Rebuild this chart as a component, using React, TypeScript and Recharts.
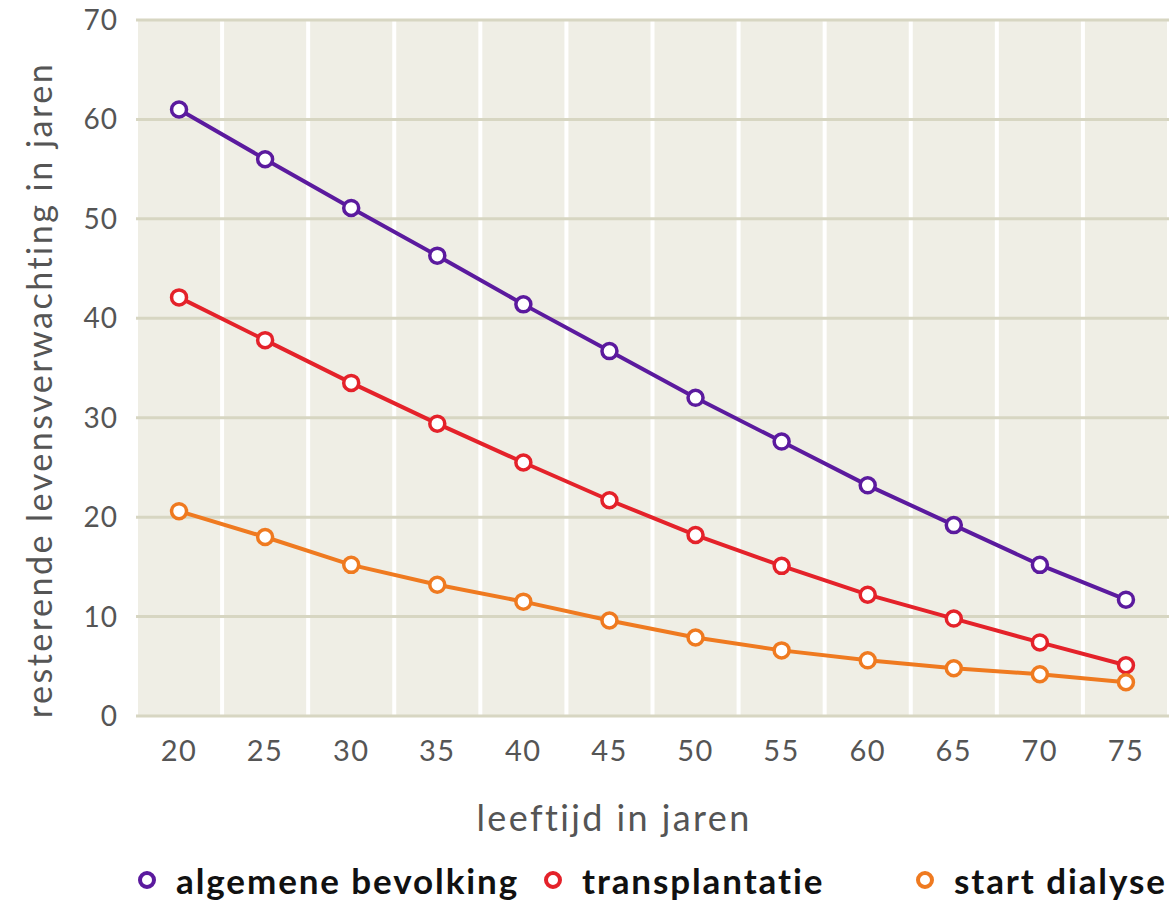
import React from "react";
import { LineChart, Line, XAxis, YAxis, CartesianGrid, Legend, Label } from "recharts";

const ages = [20, 25, 30, 35, 40, 45, 50, 55, 60, 65, 70, 75];
const algemeneBevolking = [61.0, 56.0, 51.1, 46.3, 41.4, 36.7, 32.0, 27.6, 23.2, 19.2, 15.2, 11.7];
const transplantatie = [42.1, 37.8, 33.5, 29.4, 25.5, 21.7, 18.2, 15.1, 12.2, 9.8, 7.4, 5.1];
const startDialyse = [20.6, 18.0, 15.2, 13.2, 11.5, 9.6, 7.9, 6.6, 5.6, 4.8, 4.2, 3.4];
const yTicks = [0, 10, 20, 30, 40, 50, 60, 70];
const gridTicks = [22.5, 27.5, 32.5, 37.5, 42.5, 47.5, 52.5, 57.5, 62.5, 67.5, 72.5];

const seriesInfo = [
  { key: "alg", name: "algemene bevolking", color: "#5b1a9e" },
  { key: "tra", name: "transplantatie", color: "#e4222a" },
  { key: "dia", name: "start dialyse", color: "#ef7a20" },
];

const data = ages.map((a, i) => ({
  age: a,
  alg: algemeneBevolking[i],
  tra: transplantatie[i],
  dia: startDialyse[i],
}));

const FONT = "Lato, 'Open Sans', sans-serif";

const renderLegend = () => (
  <div
    style={{
      height: 52,
      position: "relative",
      fontFamily: FONT,
      fontWeight: 700,
      fontSize: 35,
      letterSpacing: 1.9,
      color: "#111",
    }}
  >
    {seriesInfo.map((s, i) => {
      const lefts = [135, 541, 913];
      return (
        <div
          key={s.key}
          style={{
            position: "absolute",
            left: lefts[i],
            top: 7,
            display: "flex",
            alignItems: "center",
            whiteSpace: "nowrap",
          }}
        >
          <svg width={24} height={24} style={{ marginRight: 17 }}>
            <circle cx={12} cy={12} r={7} fill="#fff" stroke={s.color} strokeWidth={4} />
          </svg>
          <span>{s.name}</span>
        </div>
      );
    })}
  </div>
);

const YLabel = () => {
  const cy = 390;
  const cx = 38;
  return (
    <text
      x={cx}
      y={cy}
      transform={`rotate(-90, ${cx}, ${cy})`}
      textAnchor="middle"
      dominantBaseline="central"
      fill="#555"
      fontFamily={FONT}
      fontSize={34}
      letterSpacing={2.5}
    >
      resterende levensverwachting  in jaren
    </text>
  );
};

const XLabel = () => (
  <text
    x={614}
    y={817}
    textAnchor="middle"
    dominantBaseline="central"
    fill="#555"
    fontFamily={FONT}
    fontSize={36}
    letterSpacing={2.4}
  >
    leeftijd in jaren
  </text>
);

export default function App() {
  return (
    <div style={{ position: "absolute", left: 0, top: 0, width: 1169, height: 904, background: "#fff" }}>
      <LineChart
        width={1169}
        height={904}
        data={data}
        margin={{ top: 20, right: 0, left: 0, bottom: 0 }}
      >
        <CartesianGrid
          xAxisId="grid"
          horizontal={false}
          vertical={true}
          stroke="#ffffff"
          strokeWidth={4}
          fill="#efeee5"
          fillOpacity={1}
        />
        <CartesianGrid
          xAxisId="grid"
          horizontal={true}
          vertical={false}
          stroke="#d7d6c2"
          strokeWidth={3}
        />
        <XAxis
          dataKey="age"
          type="number"
          domain={[17.5, 77.5]}
          ticks={ages}
          axisLine={false}
          tickLine={false}
          tickSize={0}
          tickMargin={24}
          height={136}
          tick={{ fill: "#555", fontSize: 29, fontFamily: FONT, letterSpacing: 1.5 }}
          interval={0}
        >
          <Label content={<XLabel />} />
        </XAxis>
        <XAxis
          xAxisId="grid"
          dataKey="age"
          type="number"
          domain={[17.5, 77.5]}
          ticks={gridTicks}
          hide
        />
        <YAxis
          domain={[0, 70]}
          ticks={yTicks}
          axisLine={false}
          tickLine={false}
          tickSize={0}
          tickMargin={18}
          width={136}
          tick={{ fill: "#555", fontSize: 28, fontFamily: FONT, letterSpacing: 1 }}
          interval={0}
        >
          <Label content={<YLabel />} />
        </YAxis>
        <Legend verticalAlign="bottom" content={renderLegend} />
        {seriesInfo.map((s) => (
          <Line
            key={s.key}
            dataKey={s.key}
            name={s.name}
            stroke={s.color}
            strokeWidth={4}
            dot={{ r: 7.5, fill: "#fff", stroke: s.color, strokeWidth: 3.5 }}
            isAnimationActive={false}
            type="linear"
          />
        ))}
      </LineChart>
    </div>
  );
}
